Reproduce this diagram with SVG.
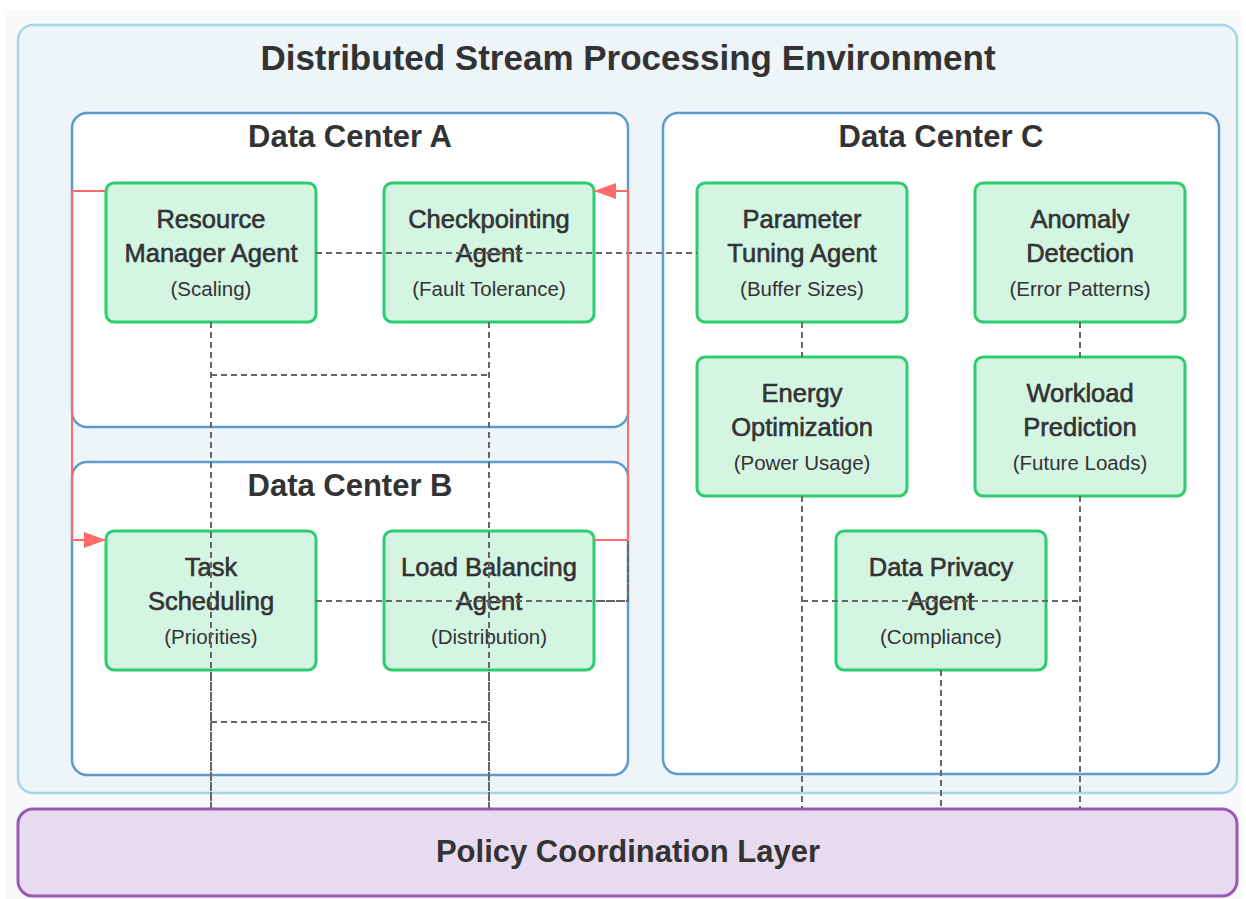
<svg xmlns="http://www.w3.org/2000/svg" width="1246" height="899" viewBox="0 0 1246 899">
<defs>
<style>
text{font-family:"Liberation Sans",Arial,sans-serif;fill:#333;text-anchor:middle}
.title{font-size:35px;font-weight:bold}
.dct{font-size:31px;font-weight:bold}
.nm{font-size:25.5px;stroke:#333;stroke-width:0.6}
.sub{font-size:20.5px}
.dc{fill:#fff;stroke:#5f9bc9;stroke-width:2.5}
.agent{fill:#d5f5e3;stroke:#2ecc71;stroke-width:3}
.dash{fill:none;stroke:#666;stroke-width:2;stroke-dasharray:6 4}
.dash2{fill:none;stroke:#666;stroke-width:2;stroke-dasharray:6 4;stroke-dashoffset:5}
.red{fill:none;stroke:#ff6b6b;stroke-width:2}
</style>
<marker id="arr" markerUnits="userSpaceOnUse" markerWidth="22" markerHeight="16" viewBox="0 0 22 16" refX="22" refY="8" orient="auto">
<path d="M0,0 L22,8 L0,16 z" fill="#ff6b6b"/>
</marker>
</defs>
<rect x="5" y="10" width="1236" height="889" fill="#f8f9fa"/>
<g id="environment">
<rect x="18" y="25" width="1219" height="768" rx="15" fill="#eef5f9" stroke="#a9d5e8" stroke-width="2.5"/>
<text class="title" x="628" y="70">Distributed Stream Processing Environment</text>
</g>
<g id="dcA">
<rect class="dc" x="72" y="113" width="556" height="314" rx="15"/>
<text class="dct" x="350" y="147">Data Center A</text>
</g>
<g id="dcB">
<rect class="dc" x="72" y="462" width="556" height="313" rx="15"/>
<text class="dct" x="350" y="496">Data Center B</text>
</g>
<g id="dcC">
<rect class="dc" x="663" y="113" width="556" height="661" rx="15"/>
<text class="dct" x="941" y="147">Data Center C</text>
</g>
<g id="resourceManager">
<rect class="agent" x="106" y="183" width="210" height="139" rx="8"/>
<text class="nm" x="211" y="228">Resource</text>
<text class="nm" x="211" y="262">Manager Agent</text>
<text class="sub" x="211" y="296">(Scaling)</text>
</g>
<g id="checkpointing">
<rect class="agent" x="384" y="183" width="210" height="139" rx="8"/>
<text class="nm" x="489" y="228">Checkpointing</text>
<text class="nm" x="489" y="262">Agent</text>
<text class="sub" x="489" y="296">(Fault Tolerance)</text>
</g>
<g id="parameterTuning">
<rect class="agent" x="697" y="183" width="210" height="139" rx="8"/>
<text class="nm" x="802" y="228">Parameter</text>
<text class="nm" x="802" y="262">Tuning Agent</text>
<text class="sub" x="802" y="296">(Buffer Sizes)</text>
</g>
<g id="anomalyDetection">
<rect class="agent" x="975" y="183" width="210" height="139" rx="8"/>
<text class="nm" x="1080" y="228">Anomaly</text>
<text class="nm" x="1080" y="262">Detection</text>
<text class="sub" x="1080" y="296">(Error Patterns)</text>
</g>
<g id="energyOptimization">
<rect class="agent" x="697" y="357" width="210" height="139" rx="8"/>
<text class="nm" x="802" y="402">Energy</text>
<text class="nm" x="802" y="436">Optimization</text>
<text class="sub" x="802" y="470">(Power Usage)</text>
</g>
<g id="workloadPrediction">
<rect class="agent" x="975" y="357" width="210" height="139" rx="8"/>
<text class="nm" x="1080" y="402">Workload</text>
<text class="nm" x="1080" y="436">Prediction</text>
<text class="sub" x="1080" y="470">(Future Loads)</text>
</g>
<g id="taskScheduling">
<rect class="agent" x="106" y="531" width="210" height="139" rx="8"/>
<text class="nm" x="211" y="576">Task</text>
<text class="nm" x="211" y="610">Scheduling</text>
<text class="sub" x="211" y="644">(Priorities)</text>
</g>
<g id="loadBalancing">
<rect class="agent" x="384" y="531" width="210" height="139" rx="8"/>
<text class="nm" x="489" y="576">Load Balancing</text>
<text class="nm" x="489" y="610">Agent</text>
<text class="sub" x="489" y="644">(Distribution)</text>
</g>
<g id="dataPrivacy">
<rect class="agent" x="836" y="531" width="210" height="139" rx="8"/>
<text class="nm" x="941" y="576">Data Privacy</text>
<text class="nm" x="941" y="610">Agent</text>
<text class="sub" x="941" y="644">(Compliance)</text>
</g>
<g id="policyLayer">
<rect x="18" y="809" width="1219" height="87" rx="15" fill="#e8daef" stroke="#9b59b6" stroke-width="3"/>
<text x="628" y="862" style="font-size:31px;font-weight:bold">Policy Coordination Layer</text>
</g>
<g id="connectors">
<path class="dash" d="M316,253 H697"/>
<path class="dash" d="M211,322 V809"/>
<path class="dash2" d="M211,670 V809"/>
<path class="dash" d="M489,322 V809"/>
<path class="dash2" d="M489,670 V809"/>
<path class="dash" d="M211,375 H489"/>
<path class="dash" d="M211,722 H489"/>
<path class="dash" d="M316,601 H628 V540"/>
<path class="dash2" d="M594,601 H628 V540"/>
<path class="dash" d="M802,322 V357"/>
<path class="dash" d="M1080,322 V357"/>
<path class="dash" d="M802,496 V809"/>
<path class="dash" d="M1080,496 V809"/>
<path class="dash" d="M802,601 H1080"/>
<path class="dash" d="M941,670 V809"/>
<path class="red" d="M106,191 H72 V540 H106" marker-end="url(#arr)"/>
<path class="red" d="M594,540 H628 V191 H594" marker-end="url(#arr)"/>
</g>
</svg>
